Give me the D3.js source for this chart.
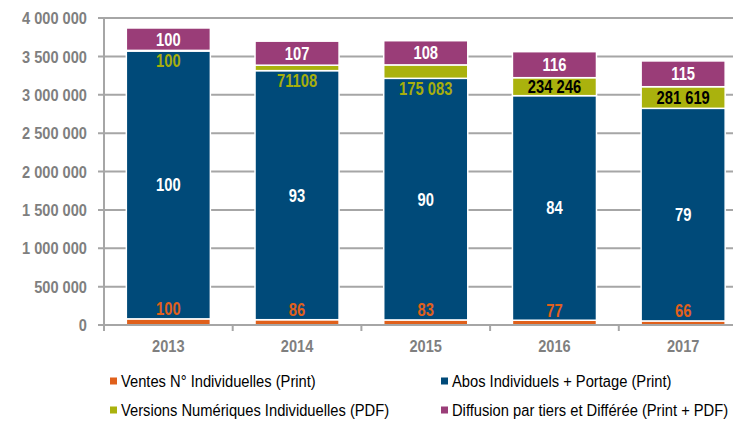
<!DOCTYPE html>
<html>
<head>
<meta charset="utf-8">
<script src="https://cdn.jsdelivr.net/npm/d3@7"></script>
<style>
  body { margin: 0; background: #fff; }
  #chart { width: 733px; height: 436px; }
  text { font-family: "Liberation Sans", Arial, sans-serif; }
</style>
</head>
<body>
<div id="chart"></div>
<script>
/* DATA */
const years = ["2013", "2014", "2015", "2016", "2017"];
const ventes = [80000, 69000, 66000, 62000, 53000];
const abos = [3490000, 3245000, 3148000, 2926000, 2770000];
const numeriques = [8000, 71108, 175083, 234246, 281619];
const diffusion = [292000, 313000, 315000, 339000, 336000];

const ventesLabels = ["100", "86", "83", "77", "66"];
const abosLabels = ["100", "93", "90", "84", "79"];
const numLabels = ["100", "71108", "175 083", "234 246", "281 619"];
const diffLabels = ["100", "107", "108", "116", "115"];

const yTicks = [0, 500000, 1000000, 1500000, 2000000, 2500000, 3000000, 3500000, 4000000];
const seriesNames = ["Ventes N° Individuelles (Print)", "Abos Individuels + Portage (Print)",
                     "Versions Numériques Individuelles (PDF)", "Diffusion par tiers et Différée (Print + PDF)"];
const keys = ["ventes", "abos", "num", "diff"];
const colors = ["#E0601B", "#004A79", "#AAB20D", "#9A3D78"];

/* SVG */
const width = 733, height = 436;
const svg = d3.select("#chart").append("svg")
    .attr("width", width)
    .attr("height", height);

/* SCALES */
const xScale = d3.scaleBand()
    .domain(years)
    .range([104, 747.5])
    .paddingInner(0.347)
    .paddingOuter(0.1735);

const yScale = d3.scaleLinear()
    .domain([0, 4000000])
    .range([325, 18]);

const fmt = v => d3.format(",")(v).replace(/,/g, " ");

// narrow-ish text helper (condensed look of the original)
function ntext(x, y, txt, opts) {
    return svg.append("text")
        .attr("transform", `translate(${x},${y}) scale(${opts.sx},1)`)
        .attr("dy", "0.36em")
        .attr("text-anchor", opts.anchor || "middle")
        .attr("font-size", opts.size)
        .attr("font-weight", opts.weight || "bold")
        .attr("fill", opts.color)
        .text(txt);
}

/* GRID + AXES */
svg.selectAll(".grid")
    .data(yTicks.slice(1))
    .enter().append("line")
    .attr("x1", 98).attr("x2", width)
    .attr("y1", d => yScale(d)).attr("y2", d => yScale(d))
    .attr("stroke", "#A6A6A6").attr("stroke-width", 2);

yTicks.forEach(t => ntext(87, yScale(t), fmt(t), {sx: 0.86, size: 17, color: "#7F7F7F", anchor: "end"}));

const step = xScale.step();
const tickXs = years.map(y => xScale(y) - (step - xScale.bandwidth()) / 2);
tickXs.push(tickXs[tickXs.length - 1] + step);

/* DRAW BARS */
const table = years.map((y, i) => ({year: y, ventes: ventes[i], abos: abos[i], num: numeriques[i], diff: diffusion[i]}));
const stacked = d3.stack().keys(keys)(table);

svg.selectAll(".layer")
    .data(stacked)
    .enter().append("g")
    .attr("fill", (d, i) => colors[i])
    .selectAll("rect")
    .data(d => d)
    .enter().append("rect")
    .attr("x", d => xScale(d.data.year))
    .attr("y", d => yScale(d[1]))
    .attr("width", xScale.bandwidth())
    .attr("height", d => yScale(d[0]) - yScale(d[1]))
    .attr("stroke", "#fff")
    .attr("stroke-width", 1.5);

// axis lines on top
svg.append("line")
    .attr("x1", 98).attr("x2", width)
    .attr("y1", yScale(0)).attr("y2", yScale(0))
    .attr("stroke", "#A6A6A6").attr("stroke-width", 2);
svg.append("line")
    .attr("x1", 104).attr("x2", 104)
    .attr("y1", yScale(4000000)).attr("y2", yScale(0) + 5)
    .attr("stroke", "#A6A6A6").attr("stroke-width", 2);
svg.selectAll(".xtick")
    .data(tickXs)
    .enter().append("line")
    .attr("x1", d => d).attr("x2", d => d)
    .attr("y1", yScale(0)).attr("y2", yScale(0) + 6)
    .attr("stroke", "#A6A6A6").attr("stroke-width", 2);

years.forEach(y => ntext(xScale(y) + xScale.bandwidth() / 2, 346, y, {sx: 0.86, size: 17, color: "#7F7F7F"}));

/* DATA LABELS */
function label(x, y, txt, color) {
    ntext(x, y, txt, {sx: 0.82, size: 18, color: color});
}

table.forEach((d, i) => {
    const cx = xScale(d.year) + xScale.bandwidth() / 2;
    const s = stacked.map(layer => layer[i]);
    // ventes: just above orange segment
    label(cx, yScale(s[0][1]) - 10, ventesLabels[i], colors[0]);
    // abos: middle of blue
    label(cx, (yScale(s[1][0]) + yScale(s[1][1])) / 2, abosLabels[i], "#fff");
    // numeriques: inside if tall enough, else below the blue top
    const h = yScale(s[2][0]) - yScale(s[2][1]);
    if (h > 16) {
        label(cx, (yScale(s[2][0]) + yScale(s[2][1])) / 2, numLabels[i], "#000");
    } else {
        label(cx, yScale(s[1][1]) + 10, numLabels[i], "#A6AE0D");
    }
    // diffusion: middle of purple
    label(cx, (yScale(s[3][0]) + yScale(s[3][1])) / 2, diffLabels[i], "#fff");
});

/* LEGEND */
const legendPos = [[110, 381], [441, 381], [110, 410], [441, 410]];
const legend = svg.selectAll(".legend")
    .data(seriesNames)
    .enter().append("g")
    .attr("transform", (d, i) => `translate(${legendPos[i][0]},${legendPos[i][1]})`);

legend.append("rect")
    .attr("x", 0).attr("y", -3.5)
    .attr("width", 7).attr("height", 7)
    .attr("fill", (d, i) => colors[i]);

legend.append("text")
    .attr("transform", "translate(11,0) scale(0.92,1)")
    .attr("dy", "0.36em")
    .attr("font-size", 16)
    .attr("fill", "#000")
    .text(d => d);
</script>
</body>
</html>
